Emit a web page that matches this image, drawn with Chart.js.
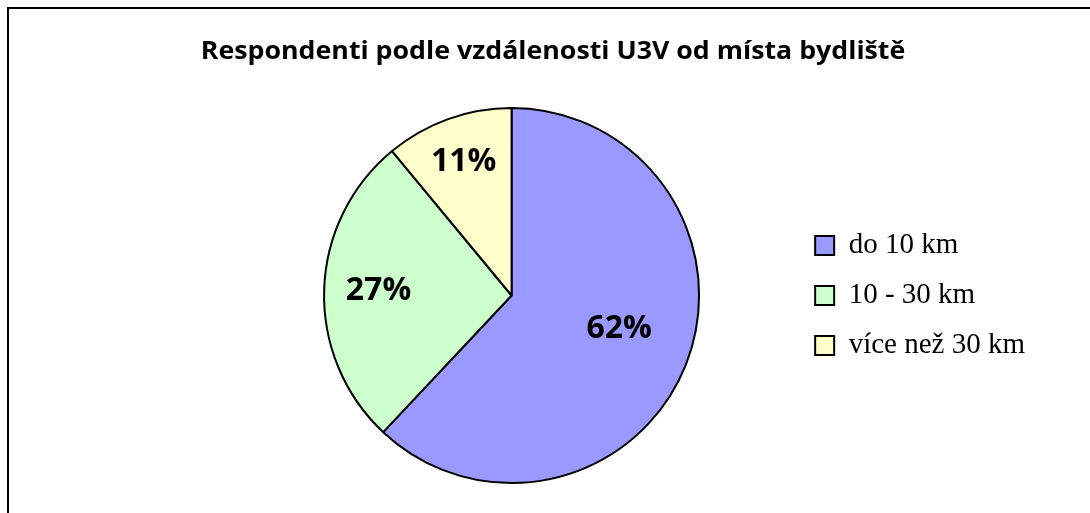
<!DOCTYPE html>
<html>
<head>
<meta charset="utf-8">
<script src="https://cdn.jsdelivr.net/npm/chart.js@4"></script>
<style>
  body { margin: 0; background: #fff; overflow: hidden; }
  #frame { position: absolute; left: 7px; top: 7px; width: 1100px; height: 530px; border: 2px solid #000; }
  #wrap { position: absolute; left: 0; top: 0; width: 1090px; height: 520px; }
</style>
</head>
<body>
<div id="frame"><div id="wrap"><canvas id="pieChart"></canvas></div></div>
<script>
  const titleText = "Respondenti podle vzdálenosti U3V od místa bydliště";
  const labels = ["do 10 km", "10 - 30 km", "více než 30 km"];
  const values = [62, 27, 11];
  const colors = ["#9999FF", "#CCFFCC", "#FFFFCC"];

  // title drawn over the whole frame (layout padding would shift the built-in one)
  const frameTitle = {
    id: "frameTitle",
    afterDraw(chart) {
      const c = chart.ctx;
      c.save();
      c.font = "bold 25px 'Open Sans'";
      c.fillStyle = "#000";
      c.textAlign = "center";
      c.textBaseline = "alphabetic";
      c.translate(544, 50);
      c.scale(1.07, 1);
      c.fillText(titleText, 0, 0);
      c.restore();
    }
  };

  // percent labels inside slices
  const sliceLabels = {
    id: "sliceLabels",
    afterDatasetsDraw(chart) {
      const c = chart.ctx;
      const meta = chart.getDatasetMeta(0);
      const total = values.reduce((a, b) => a + b, 0);
      const factors = [0.6, 0.71, 0.755];
      c.save();
      c.font = "bold 32px 'Open Sans'";
      c.fillStyle = "#000";
      c.textAlign = "center";
      c.textBaseline = "middle";
      meta.data.forEach((arc, i) => {
        const mid = (arc.startAngle + arc.endAngle) / 2 - (i === 0 ? 0.08 : 0);
        const r = arc.outerRadius * factors[i];
        const x = arc.x + Math.cos(mid) * r;
        const y = arc.y + Math.sin(mid) * r;
        c.fillText(Math.round(values[i] / total * 100) + "%", x, y);
      });
      c.restore();
    }
  };

  const ctx = document.getElementById("pieChart");
  new Chart(ctx, {
    type: "pie",
    data: {
      labels: labels,
      datasets: [{
        data: values,
        backgroundColor: colors,
        borderColor: "#000",
        borderWidth: 2
      }]
    },
    options: {
      responsive: true,
      maintainAspectRatio: false,
      animation: false,
      layout: { padding: { left: 220, right: 64, top: 98, bottom: 45 } },
      plugins: {
        title: { display: false },
        legend: {
          position: "right",
          labels: {
            color: "#000",
            font: { family: "'Liberation Serif'", size: 29 },
            boxWidth: 19,
            boxHeight: 19,
            padding: 21,
            generateLabels(chart) {
              return labels.map((l, i) => ({
                text: l,
                fillStyle: colors[i],
                strokeStyle: "#000",
                lineWidth: 2,
                index: i
              }));
            }
          }
        },
        tooltip: { enabled: false }
      }
    },
    plugins: [sliceLabels, frameTitle]
  });
</script>
</body>
</html>
